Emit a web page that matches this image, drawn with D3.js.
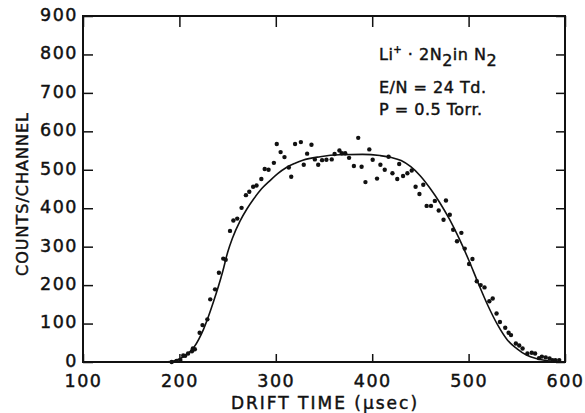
<!DOCTYPE html>
<html>
<head>
<meta charset="utf-8">
<title></title>
<script src="https://d3js.org/d3.v7.min.js"></script>
<style type="text/css">
	body { margin: 0; background: #fff; }
	svg text { font-family: "DejaVu Sans", sans-serif; fill: #111; stroke: #111; stroke-width: 0.45; }
	.dot { fill: #111; }
	.fit { fill: none; stroke: #111; stroke-width: 1.6; }
	.tick line { stroke: #111; stroke-width: 1.5; }
	.tick text { font-size: 17.5px; letter-spacing: 1.5px; }
</style>
</head>
<body>
<script type="text/javascript">

var width = 585,
	height = 413;

// measured points (drift time in usec, counts per channel)
var driftTime = [192, 197, 201, 204, 206, 209, 213, 214, 216, 221, 224, 229, 232, 237, 241, 245.5, 248,
	252.5, 256, 260, 264.5, 269, 272.5, 276.5, 280, 285, 288.5, 292.5, 298, 301, 305, 309, 313.5, 316,
	320, 326, 329, 332.5, 337, 340.5, 344, 348, 352.5, 358, 361, 366, 368.5, 372, 376, 381, 385.5,
	389, 393, 397, 400.5, 405, 408.5, 413, 417, 421, 426, 428, 432, 436.5, 441, 445, 449, 453,
	456.5, 461, 465, 469, 474, 476.5, 480.5, 484, 488, 492.5, 496, 500.5, 504, 508.5, 512.5, 516.5,
	521.5, 525, 529, 532.5, 538, 541.5, 544, 549, 552.5, 556, 561, 565.5, 569, 573, 576, 580,
	584, 587, 590, 594];
var counts = [0, 3, 5, 17, 16, 22, 28, 35, 33, 76, 96, 111, 163, 189, 232, 269, 266,
	341, 368, 373, 401, 434, 443, 456, 459, 476, 502, 500, 518, 567, 546, 533, 506, 482,
	567, 572, 513, 542, 565, 527, 513, 525, 526, 527, 541, 550, 543, 543, 531, 510, 583,
	508, 468, 553, 526, 477, 513, 500, 534, 491, 476, 515, 484, 491, 498, 456, 437, 461,
	406, 406, 419, 394, 370, 420, 383, 344, 314, 336, 295, 255, 268, 210, 200, 194,
	158, 165, 126, 104, 89, 76, 70, 48, 43, 35, 22, 24, 22, 10, 14, 12,
	9, 5, 5, 5];

// fitted curve
var fitTime = [185, 195, 205, 215, 225, 235, 245, 250, 255, 263, 270, 277, 285, 294, 302, 311, 320, 328,
	346, 366, 390, 408, 420, 430, 440, 450, 460, 470, 480, 490, 500, 510, 520, 530, 540, 550, 560,
	570, 580, 590, 600];
var fitCounts = [0, 3, 15, 38, 85, 154, 236, 285, 322, 367, 398, 424, 450, 472, 490, 506, 517, 525,
	534, 539, 540, 537, 532, 524, 508, 484, 452, 415, 372, 322, 266, 205, 147, 97, 58, 35, 18,
	9, 4, 1, 0];

var xTicks = [100, 200, 300, 400, 500, 600];
var yTicks = [0, 100, 200, 300, 400, 500, 600, 700, 800, 900];

var svg = d3.select('body').append('svg')
	.attr('width', width)
	.attr('height', height)

var x = d3.scaleLinear().domain([100, 600]).range([83, 565]);
var y = d3.scaleLinear().domain([0, 900]).range([362, 16]);

function noDomain(g) {
	g.select('.domain').remove();
	g.attr('font-family', null).attr('font-size', null);
}

// axes, ticks pointing into the plot
svg.append('g')
	.attr('transform', 'translate(0,' + y(0) + ')')
	.call(d3.axisBottom(x).tickValues(xTicks).tickSizeInner(-8).tickSizeOuter(0).tickPadding(13))
	.call(noDomain)

svg.append('g')
	.attr('transform', 'translate(' + x(100) + ',0)')
	.call(d3.axisLeft(y).tickValues(yTicks).tickSizeInner(-10).tickSizeOuter(0).tickPadding(5))
	.call(noDomain)
	.call(function(g){ g.selectAll('.tick text').attr('dy', '0.25em'); })

svg.append('g')
	.attr('transform', 'translate(0,' + y(900) + ')')
	.call(d3.axisTop(x).tickValues(xTicks).tickSizeInner(-11).tickSizeOuter(0).tickFormat(''))
	.call(noDomain)

svg.append('g')
	.attr('transform', 'translate(' + x(600) + ',0)')
	.call(d3.axisRight(y).tickValues(yTicks).tickSizeInner(-9).tickSizeOuter(0).tickFormat(''))
	.call(noDomain)

// frame
svg.append('rect')
	.attr('x', x(100))
	.attr('y', y(900))
	.attr('width', x(600) - x(100))
	.attr('height', y(0) - y(900))
	.attr('fill', 'none')
	.attr('stroke', '#111')
	.attr('stroke-width', 2)

// fitted line
var line = d3.line()
	.x(function(d, i){ return x(fitTime[i]); })
	.y(function(d){ return y(d); })
	.curve(d3.curveMonotoneX)

svg.append('path')
	.datum(fitCounts)
	.attr('class', 'fit')
	.attr('d', line)

// data points
svg.selectAll('.dot')
	.data(counts)
	.enter().append('circle').classed('dot', true)
	.attr('r', 2.2)
	.attr('cx', function(d, i){ return x(driftTime[i]); })
	.attr('cy', function(d){ return y(d); })

// axis titles
svg.append('text')
	.attr('x', 325)
	.attr('y', 409)
	.attr('text-anchor', 'middle')
	.style('font-size', '17px')
	.style('letter-spacing', '2px')
	.text('DRIFT TIME (\u03bcsec)')

svg.append('text')
	.attr('transform', 'translate(28,194) rotate(-90)')
	.attr('text-anchor', 'middle')
	.style('font-size', '16px')
	.style('letter-spacing', '1px')
	.text('COUNTS/CHANNEL')

// annotation
var note = svg.append('g').style('font-size', '16px').style('letter-spacing', '0.5px')

var t1 = note.append('text').attr('x', 379).attr('y', 60)
t1.append('tspan').text('Li')
t1.append('tspan').attr('dy', -7).style('font-size', '10px').text('+')
t1.append('tspan').attr('dy', 7).text(' \u00b7 2N')
t1.append('tspan').attr('dy', 6).text('2')
t1.append('tspan').attr('dy', -6).text('in N')
t1.append('tspan').attr('dy', 6).text('2')

note.append('text').attr('x', 379).attr('y', 93).text('E/N = 24 Td.')
note.append('text').attr('x', 379).attr('y', 115).text('P = 0.5  Torr.')

</script>
</body>
</html>
